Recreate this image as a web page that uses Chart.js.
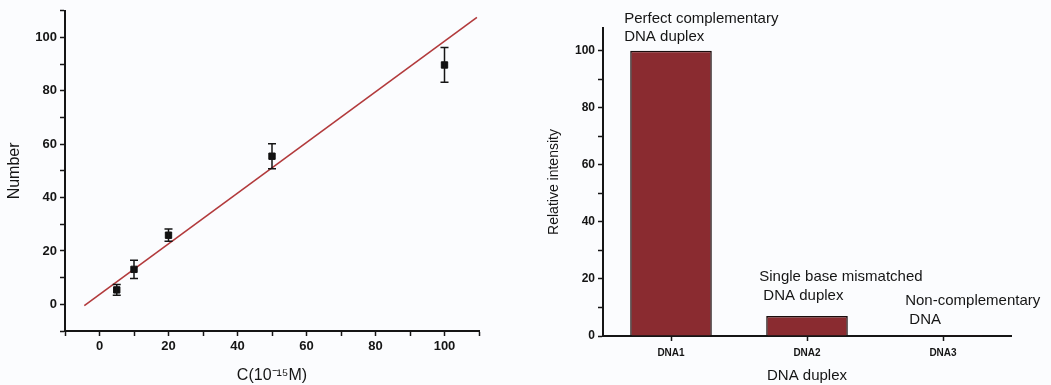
<!DOCTYPE html>
<html>
<head>
<meta charset="utf-8">
<script src="https://cdn.jsdelivr.net/npm/chart.js@4"></script>
<style>
  html, body { margin: 0; padding: 0; background: #fbfcfe; }
  body { width: 1051px; height: 385px; position: relative; overflow: hidden; }
  canvas { position: absolute; top: 0; }
  #left { left: 0; }
  #right { left: 530px; }
</style>
</head>
<body>
<canvas id="left" width="500" height="385"></canvas>
<canvas id="right" width="521" height="385"></canvas>
<script>
// ── datos: calibración (izquierda) ──
const concX = [5, 10, 20, 50, 100];
const countY = [5.4, 13.1, 25.9, 55.5, 89.7];
const countErr = [2.0, 3.4, 2.3, 4.7, 6.5];
const fitX = [-4.4, 109.4];
const fitY = [-0.5, 107.5];

// ── datos: selectividad (derecha) ──
const dnaLabels = ['DNA1', 'DNA2', 'DNA3'];
const intensity = [100, 7.0, 0.3];
const notes = [
    ['Perfect complementary', 'DNA duplex'],
    ['Single base mismatched', ' DNA duplex'],
    ['Non-complementary', ' DNA']
];

const FONT = "'Liberation Sans', Arial, sans-serif";
const INK = '#151515';

function axisOpts(min, max, size, extra) {
    return Object.assign({
        min: min, max: max,
        border: { display: true, color: INK, width: 2 },
        grid: { drawOnChartArea: false, drawTicks: true, tickLength: 5, tickWidth: 1.5, tickColor: INK },
        ticks: {
            stepSize: 10, autoSkip: false, maxRotation: 0, includeBounds: false,
            color: INK, font: { family: FONT, size: size, weight: 'bold' },
            callback: v => (v % 20 === 0 ? v : '')
        }
    }, extra);
}

// ── barras de error ──
const errorBars = {
    id: 'errorBars',
    afterDatasetsDraw(chart) {
        const { ctx, scales: { x, y } } = chart;
        ctx.save();
        ctx.strokeStyle = INK;
        ctx.lineWidth = 1.5;
        concX.forEach((cx, i) => {
            const px = x.getPixelForValue(cx);
            const top = y.getPixelForValue(countY[i] + countErr[i]);
            const bot = y.getPixelForValue(countY[i] - countErr[i]);
            ctx.beginPath();
            ctx.moveTo(px, top); ctx.lineTo(px, bot);
            ctx.moveTo(px - 4, top); ctx.lineTo(px + 4, top);
            ctx.moveTo(px - 4, bot); ctx.lineTo(px + 4, bot);
            ctx.stroke();
        });
        ctx.restore();
    }
};

new Chart(document.getElementById('left'), {
    type: 'scatter',
    data: {
        datasets: [
            {
                data: concX.map((v, i) => ({ x: v, y: countY[i] })),
                pointStyle: 'rect', pointRadius: 4.5,
                backgroundColor: '#111', borderColor: '#111', order: 0
            },
            {
                type: 'line',
                data: fitX.map((v, i) => ({ x: v, y: fitY[i] })),
                borderColor: '#b23a3c', borderWidth: 1.6, pointRadius: 0, order: 1
            }
        ]
    },
    options: {
        responsive: false, animation: false,
        layout: { padding: { top: 10, right: 21, left: 0, bottom: 0 } },
        plugins: { legend: { display: false }, tooltip: { enabled: false } },
        scales: {
            x: axisOpts(-10, 110, 13, {
                type: 'linear',
                afterFit: s => { s.height = 54; },
                title: { display: true, text: 'C(10\u207B\u00B9\u2075M)', color: INK,
                         font: { family: FONT, size: 16 }, padding: { top: 0, bottom: 0 } }
            }),
            y: axisOpts(-10, 110, 13, {
                afterFit: s => { s.width = 65; },
                title: { display: true, text: 'Number', color: INK,
                         font: { family: FONT, size: 16 }, padding: { top: 5, bottom: 0 } }
            })
        }
    },
    plugins: [errorBars]
});

// ── textos sobre barras ──
const barNotes = {
    id: 'barNotes',
    afterDatasetsDraw(chart) {
        const { ctx } = chart;
        const bars = chart.getDatasetMeta(0).data;
        const offs = [[-6, -32], [-7, -39], [3, -34]];
        ctx.save();
        ctx.fillStyle = INK;
        ctx.font = '15px ' + FONT;
        ctx.textBaseline = 'middle';
        ctx.textAlign = 'left';
        bars.forEach((b, i) => {
            const left = b.x - b.width / 2 + offs[i][0];
            notes[i].forEach((line, j) => {
                ctx.fillText(line, left, b.y + offs[i][1] + j * 18.5);
            });
        });
        ctx.restore();
    }
};

new Chart(document.getElementById('right'), {
    type: 'bar',
    data: {
        labels: dnaLabels,
        datasets: [{
            data: intensity,
            backgroundColor: '#8a2b30', borderColor: '#1a0c0c', borderWidth: 1.5,
            barPercentage: 0.6, categoryPercentage: 1
        }]
    },
    options: {
        responsive: false, animation: false,
        layout: { padding: { top: 28, right: 40, left: 0, bottom: 0 } },
        plugins: { legend: { display: false }, tooltip: { enabled: false } },
        scales: {
            x: {
                border: { display: true, color: INK, width: 2 },
                grid: { drawOnChartArea: false, drawTicks: true, tickLength: 5, tickWidth: 1.5, tickColor: INK, offset: false },
                ticks: { color: INK, font: { family: FONT, size: 10, weight: 'bold' }, padding: 6 },
                afterFit: s => { s.height = 49; },
                title: { display: true, text: 'DNA duplex', color: INK,
                         font: { family: FONT, size: 15 }, padding: { top: 0, bottom: 0 } }
            },
            y: axisOpts(0, 108, 12, {
                afterFit: s => { s.width = 73; },
                title: { display: true, text: 'Relative intensity', color: INK,
                         font: { family: FONT, size: 14 }, padding: { top: 16, bottom: 0 } }
            })
        }
    },
    plugins: [barNotes]
});
</script>
</body>
</html>
